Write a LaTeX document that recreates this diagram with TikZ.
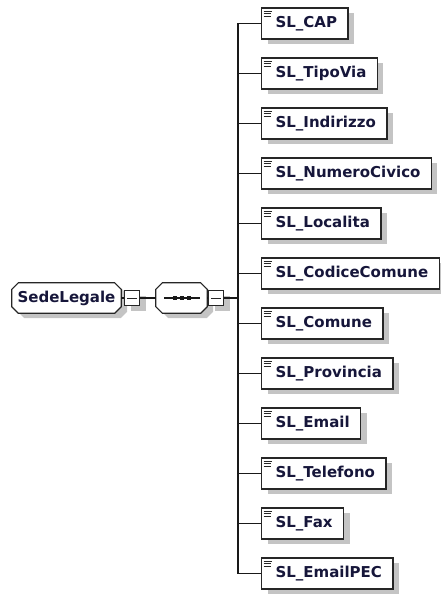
\documentclass[tikz,border=0pt]{standalone}
\usepackage{fontspec}
\setmainfont{DejaVu Sans}
\usetikzlibrary{shadows}
\pgfdeclarelayer{background}
\pgfsetlayers{background,main}
\definecolor{txt}{HTML}{16163A}
\definecolor{shd}{HTML}{C4C4C4}
\newcommand{\octpath}[4]{% #1 node name, #2 chamfer, #3 dx, #4 dy
  ([xshift=#3+#2,yshift=#4]#1.north west) -- ([xshift=#3-#2,yshift=#4]#1.north east)
  -- ([xshift=#3,yshift=#4-#2]#1.north east) -- ([xshift=#3,yshift=#4+#2]#1.south east)
  -- ([xshift=#3-#2,yshift=#4]#1.south east) -- ([xshift=#3+#2,yshift=#4]#1.south west)
  -- ([xshift=#3,yshift=#4+#2]#1.south west) -- ([xshift=#3,yshift=#4-#2]#1.north west) -- cycle}
\begin{document}
\begin{tikzpicture}[x=1pt,y=-1pt,
  every node/.style={font=\fontsize{15pt}{17pt}\selectfont\bfseries, text=txt},
  shad/.style={drop shadow={shadow xshift=6pt, shadow yshift=-5pt, fill=shd, opacity=1}},
  elem/.style={draw=black!85, line width=1.2pt, fill=white, shad, anchor=west,
    minimum height=31pt, inner ysep=0pt, inner xsep=11pt,
    execute at begin node={\hspace{3pt}},
    path picture={
      \draw[line width=0.9pt,black!85] ([xshift=2pt,yshift=-3pt]path picture bounding box.north west) -- ++(8pt,0pt);
      \draw[line width=0.9pt,black!85] ([xshift=2pt,yshift=-5.5pt]path picture bounding box.north west) -- ++(7pt,0pt);
      \draw[line width=0.9pt,black!85] ([xshift=2pt,yshift=-8pt]path picture bounding box.north west) -- ++(7pt,0pt);
    }},
  octa/.style={inner sep=0pt, minimum height=30pt},
  octline/.style={draw=black!85, line width=1.2pt, fill=white},
  minusbox/.style={draw=black!85, line width=1.2pt, fill=white, shad,
    minimum size=15pt, inner sep=0pt,
    path picture={\draw[line width=0.9pt,black!85]
      ([xshift=2.5pt]path picture bounding box.west) -- ([xshift=-2.5pt]path picture bounding box.east);}},
  conn/.style={line width=1.2pt, draw=black!90}
]
\useasboundingbox (0,0) rectangle (441,594);

% root
\node[octa, minimum width=109pt] (root) at (66.5,298) {SedeLegale};
\node[octa, minimum width=51pt] (seq) at (181.5,298) {};
\begin{pgfonlayer}{background}
  \fill[shd] \octpath{root}{6.5pt}{6pt}{-5pt};
  \fill[shd] \octpath{seq}{6.5pt}{6pt}{-5pt};
  \path[octline] \octpath{root}{6.5pt}{0pt}{0pt};
  \path[octline] \octpath{seq}{6.5pt}{0pt}{0pt};
\end{pgfonlayer}
\node[minusbox] (m1) at (132,298) {};
\node[minusbox] (m2) at (216,298) {};
\coordinate (bus) at (238,298);

\draw[conn] (root.east) -- (m1.west);
\draw[conn] (m1.east) -- (seq.west);
\draw[conn] (seq.east) -- (m2.west);
\draw[conn] (m2.east) -- (bus);

% sequence symbol
\coordinate (sl) at (164,298);
\coordinate (sr) at (200,298);
\draw[line width=1.2pt,black!90] (sl) -- (sr);
\foreach \dx in {175,182,189}
  \fill[black!90] (\dx-2,296) rectangle (\dx+2,300);

% children
\foreach \n/\t [count=\i from 0] in {
  cap/SL\_CAP, tipo/SL\_TipoVia, ind/SL\_Indirizzo, num/SL\_NumeroCivico,
  loc/SL\_Localita, cod/SL\_CodiceComune, com/SL\_Comune, prov/SL\_Provincia,
  mail/SL\_Email, tel/SL\_Telefono, fax/SL\_Fax, pec/SL\_EmailPEC}{
  \node[elem] (\n) at (261,23.5+50*\i) {\t};
  \coordinate (b\n) at (238,23.5+50*\i);
  \draw[conn] (b\n) -- (\n.west);
}
\draw[conn] (bcap) -- (bpec);
\end{tikzpicture}
\end{document}
